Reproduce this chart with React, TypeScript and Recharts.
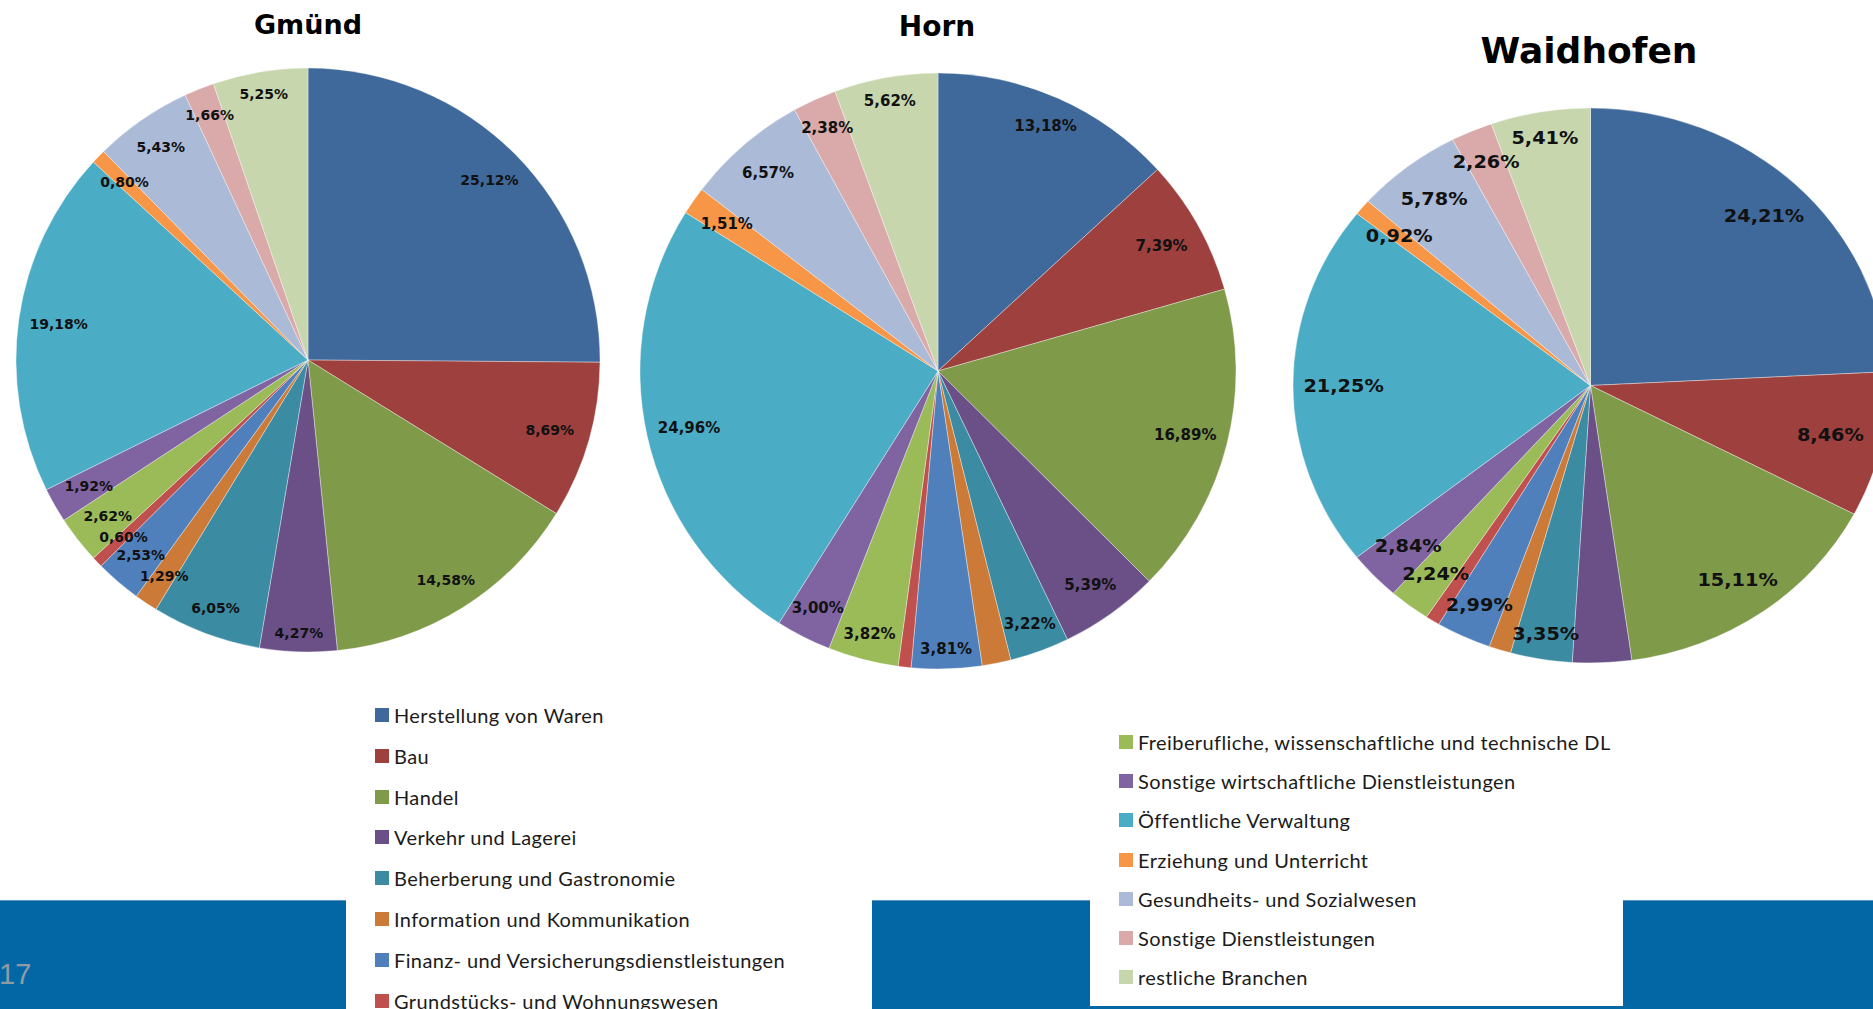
import type { ReactElement } from "react";
import { PieChart, Pie, Cell } from "recharts";

// Branchen in the order Excel draws them (clockwise from 12 o'clock)
const categories = [
  "Herstellung von Waren",
  "Bau",
  "Handel",
  "Verkehr und Lagerei",
  "Beherberung und Gastronomie",
  "Information und Kommunikation",
  "Finanz- und Versicherungsdienstleistungen",
  "Grundstücks- und Wohnungswesen",
  "Freiberufliche, wissenschaftliche und technische DL",
  "Sonstige wirtschaftliche Dienstleistungen",
  "Öffentliche Verwaltung",
  "Erziehung und Unterricht",
  "Gesundheits- und Sozialwesen",
  "Sonstige Dienstleistungen",
  "restliche Branchen",
];

const colors = [
  "#40699b",
  "#9d403e",
  "#7f9a49",
  "#6a5087",
  "#3b8ba2",
  "#cc7a37",
  "#4f80bc",
  "#c0504d",
  "#9bbb59",
  "#8064a2",
  "#4bacc6",
  "#f79646",
  "#aabad7",
  "#d9aaa9",
  "#c7d6ad",
];

// shares in % (labels as printed; unlabeled slices)
const gmundValues = [25.12, 8.69, 14.58, 4.27, 6.05, 1.29, 2.53, 0.6, 2.62, 1.92, 19.18, 0.8, 5.43, 1.66, 5.25];
const hornValues = [13.18, 7.39, 16.89, 5.39, 3.22, 1.56, 3.81, 0.7, 3.82, 3.0, 24.96, 1.51, 6.57, 2.38, 5.62];
const waidhofenValues = [24.21, 8.46, 15.11, 3.2, 3.35, 1.2, 2.99, 0.78, 2.24, 2.84, 21.25, 0.92, 5.78, 2.26, 5.41];

// slices without a data label
const gmundUnlabeled: number[] = [];
const hornUnlabeled = [5, 7];
const waidhofenUnlabeled = [3, 5, 7];

const leftLegend = categories.slice(0, 8);
const rightLegend = categories.slice(8);

const RADIAN = Math.PI / 180;
const BLUE = "#0366a5";

interface CityPieProps {
  values: number[];
  unlabeled: number[];
  radius: number;
  fontSize: number;
}

function CityPie({ values, unlabeled, radius, fontSize }: CityPieProps): ReactElement {
  const data = categories.map((name, i) => ({ name, value: values[i] }));
  const size = 2 * (radius + 6);

  const renderLabel = (p: any) => {
    if (unlabeled.includes(p.index)) return null;
    const text = values[p.index].toFixed(2).replace(".", ",") + "%";
    const a = -p.midAngle * RADIAN;
    const hw = fontSize * 2.08;
    const hh = fontSize * 0.55;
    const d = p.outerRadius * 0.965 - (hw * Math.abs(Math.cos(a)) + hh * Math.abs(Math.sin(a)));
    return (
      <text
        x={p.cx + d * Math.cos(a)}
        y={p.cy + d * Math.sin(a)}
        textAnchor="middle"
        dominantBaseline="central"
        fontFamily="'DejaVu Sans', Verdana, sans-serif"
        fontWeight="bold"
        fontSize={fontSize}
        fill="#111"
      >
        {text}
      </text>
    );
  };

  return (
    <PieChart width={size} height={size} margin={{ top: 0, right: 0, bottom: 0, left: 0 }}>
      <Pie
        data={data}
        dataKey="value"
        cx="50%"
        cy="50%"
        outerRadius={radius}
        startAngle={90}
        endAngle={-270}
        label={renderLabel}
        labelLine={false}
        isAnimationActive={false}
        stroke="rgba(255,255,255,0.45)"
        strokeWidth={0.8}
      >
        {data.map((d, i) => (
          <Cell key={d.name} fill={colors[i]} />
        ))}
      </Pie>
    </PieChart>
  );
}

function LegendItem({ name, top, left }: { name: string; top: number; left: number }): ReactElement {
  const i = categories.indexOf(name);
  return (
    <div
      style={{
        position: "absolute",
        left,
        top: top - 12,
        height: 24,
        display: "flex",
        alignItems: "center",
        whiteSpace: "nowrap",
      }}
    >
      <span style={{ width: 14, height: 14, background: colors[i], marginRight: 5, display: "inline-block" }} />
      <span
        style={{
          fontFamily: "Lato, 'Open Sans', sans-serif",
          fontSize: 20,
          letterSpacing: 0.4,
          color: "#1b1b1b",
        }}
      >
        {name}
      </span>
    </div>
  );
}

function Title({ text, x, y, size }: { text: string; x: number; y: number; size: number }): ReactElement {
  return (
    <div
      style={{
        position: "absolute",
        left: x - 200,
        top: y - size * 0.6,
        width: 400,
        textAlign: "center",
        fontFamily: "'DejaVu Sans', Verdana, sans-serif",
        fontWeight: "bold",
        fontSize: size,
        lineHeight: `${size * 1.2}px`,
        color: "#000",
      }}
    >
      {text}
    </div>
  );
}

export default function App(): ReactElement {
  return (
    <div
      style={{
        position: "absolute",
        left: 0,
        top: 0,
        width: 1873,
        height: 1009,
        overflow: "hidden",
        background: "#fff",
      }}
    >
      {/* bottom band of the slide */}
      <div style={{ position: "absolute", left: 0, top: 900, width: 1873, height: 109, background: BLUE }} />
      <div style={{ position: "absolute", left: 0, top: 900, width: 1873, height: 1, background: "#5a95c4" }} />
      <div style={{ position: "absolute", left: 346, top: 900, width: 526, height: 109, background: "#fff" }} />
      <div style={{ position: "absolute", left: 1090, top: 900, width: 533, height: 106, background: "#fff" }} />
      <div
        style={{
          position: "absolute",
          left: -1,
          top: 958,
          fontFamily: "'Liberation Sans', Arial, sans-serif",
          fontSize: 29,
          color: "#8e9ba6",
        }}
      >
        17
      </div>

      <Title text="Gmünd" x={308} y={25} size={27} />
      <Title text="Horn" x={937} y={27} size={28} />
      <Title text="Waidhofen" x={1589} y={51} size={36} />

      <div style={{ position: "absolute", left: 308 - 298, top: 360 - 298 }}>
        <CityPie values={gmundValues} unlabeled={gmundUnlabeled} radius={292} fontSize={14} />
      </div>
      <div style={{ position: "absolute", left: 938 - 304, top: 371 - 304 }}>
        <CityPie values={hornValues} unlabeled={hornUnlabeled} radius={298} fontSize={15} />
      </div>
      <div
        style={{
          position: "absolute",
          left: 1590 - 283.5,
          top: 385.5 - 283.5,
          transform: "scaleX(1.072)",
          transformOrigin: "283.5px 283.5px",
        }}
      >
        <CityPie values={waidhofenValues} unlabeled={waidhofenUnlabeled} radius={277.5} fontSize={18} />
      </div>

      {leftLegend.map((name, i) => (
        <LegendItem key={name} name={name} left={375} top={715 + i * 40.8} />
      ))}
      {rightLegend.map((name, i) => (
        <LegendItem key={name} name={name} left={1119} top={742 + i * 39.2} />
      ))}
    </div>
  );
}
